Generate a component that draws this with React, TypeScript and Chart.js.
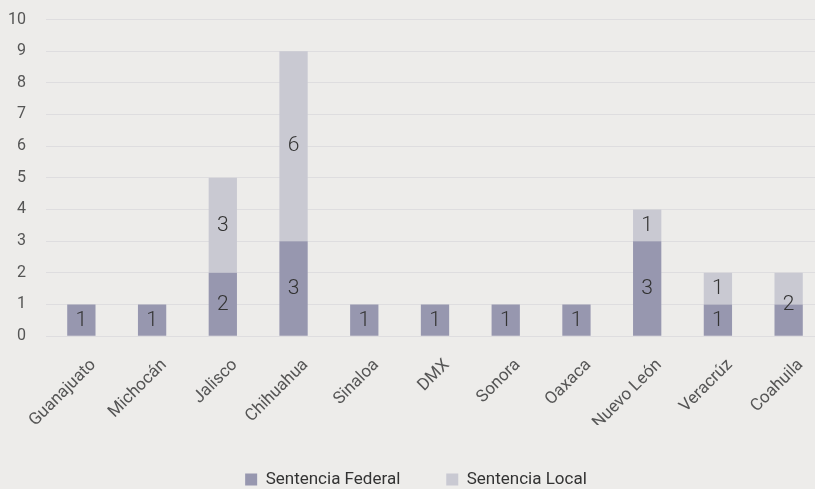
import React, { useEffect, useRef } from "react";
import { Chart, registerables } from "chart.js";

Chart.register(...registerables);

const categories = ["Guanajuato", "Michocán", "Jalisco", "Chihuahua", "Sinaloa", "DMX", "Sonora", "Oaxaca", "Nuevo León", "Veracrúz", "Coahuila"];
const federalValues = [1, 1, 2, 3, 1, 1, 1, 1, 3, 1, 1];
const localValues = [0, 0, 3, 6, 0, 0, 0, 0, 1, 1, 1];
const federalLabels = ["1", "1", "2", "3", "1", "1", "1", "1", "3", "1", ""];
const localLabels = ["", "", "3", "6", "", "", "", "", "1", "1", ""];
const boundaryLabels = ["", "", "", "", "", "", "", "", "", "", "2"];
const yTicks = [0, 1, 2, 3, 4, 5, 6, 7, 8, 9, 10];

const FONT = "Roboto, 'DejaVu Sans', sans-serif";

const labelPlugin = {
  id: "segLabels",
  afterDatasetsDraw(chart: any) {
    const ctx = chart.ctx;
    const y = chart.scales.y;
    ctx.save();
    ctx.font = `300 21px ${FONT}`;
    ctx.fillStyle = "#333333";
    ctx.textAlign = "center";
    ctx.textBaseline = "middle";
    const m0 = chart.getDatasetMeta(0);
    const m1 = chart.getDatasetMeta(1);
    categories.forEach((_, i) => {
      const x = m0.data[i].x;
      const f = federalValues[i];
      const l = localValues[i];
      if (federalLabels[i]) ctx.fillText(federalLabels[i], x, y.getPixelForValue(f / 2));
      if (localLabels[i]) ctx.fillText(localLabels[i], m1.data[i].x, y.getPixelForValue(f + l / 2));
      if (boundaryLabels[i]) ctx.fillText(boundaryLabels[i], x, y.getPixelForValue(f));
    });
    ctx.restore();
  },
};

export default function App() {
  const ref = useRef<HTMLCanvasElement | null>(null);
  useEffect(() => {
    if (!ref.current) return;
    const chart = new Chart(ref.current, {
      type: "bar",
      data: {
        labels: categories,
        datasets: [
          { label: "Sentencia Federal", data: federalValues, backgroundColor: "#9797AF", borderWidth: 0 },
          { label: "Sentencia Local", data: localValues, backgroundColor: "#C9C9D2", borderWidth: 0 },
        ],
      },
      options: {
        animation: false,
        responsive: false,
        maintainAspectRatio: false,
        layout: { padding: { top: 19.5, left: 8, right: 0, bottom: 0 } },
        datasets: { bar: { categoryPercentage: 1, barPercentage: 0.4 } },
        plugins: {
          legend: {
            position: "bottom",
            labels: {
              boxWidth: 12,
              boxHeight: 12,
              padding: 46,
              color: "#333333",
              font: { family: FONT, size: 17 },
            },
          },
          tooltip: { enabled: false },
        },
        scales: {
          x: {
            stacked: true,
            grid: { display: false, drawTicks: false },
            border: { display: false },
            afterFit: (s: any) => {
              s.paddingLeft = 0;
              s.paddingRight = 0;
              s.height -= 27;
            },
            ticks: {
              color: "#555555",
              font: { family: FONT, size: 17 },
              maxRotation: 45,
              minRotation: 45,
              padding: 19,
              labelOffset: 12,
            },
          },
          y: {
            stacked: true,
            min: 0,
            max: 10,
            z: 1,
            afterBuildTicks: (s: any) => {
              s.ticks = yTicks.map((v) => ({ value: v }));
            },
            afterFit: (s: any) => {
              s.width = 38;
              s.paddingTop = 0;
              s.paddingBottom = 0;
            },
            grid: { color: "rgba(205,205,210,0.45)", drawTicks: false, lineWidth: 1 },
            border: { display: false },
            ticks: {
              color: "#555555",
              font: { family: FONT, size: 16 },
              padding: 20,
            },
          },
        },
      },
      plugins: [labelPlugin],
    });
    return () => chart.destroy();
  }, []);
  return (
    <div style={{ position: "fixed", left: 0, top: 0, width: 815, height: 489, overflow: "hidden", background: "#EDECEA" }}>
      <canvas ref={ref} width={824} height={498} style={{ display: "block" }} />
    </div>
  );
}
